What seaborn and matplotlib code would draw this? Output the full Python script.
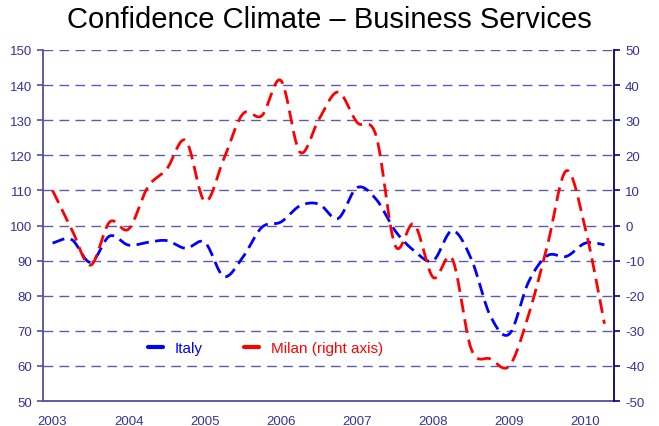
import numpy as np
import pandas as pd
import matplotlib
matplotlib.use("Agg")
import matplotlib.pyplot as plt
from matplotlib.lines import Line2D
import seaborn as sns

# quarterly data, 2003 Q1 .. 2010 Q2
years = [2003, 2004, 2005, 2006, 2007, 2008, 2009, 2010]
italy = [95, 96, 89.5, 97, 94.4, 95.2, 95.7, 93.5, 95.2, 85.5,
         91, 99.5, 101, 105.6, 106.1, 102, 110.8, 107.5, 98.5, 92.8,
         90, 98.5, 90.5, 74.3, 69.1, 83.8, 91.4, 91.2, 95, 94.5]
milan = [10, -1, -11.3, 1, -1, 10.9, 16.1, 24.2, 6.9, 19,
         31.8, 31.3, 41.3, 20.9, 30.3, 38, 29.4, 25.6, -5.7, 0.4,
         -14.8, -9.5, -35.2, -38, -40, -25.7, -5.7, 15.6, -1, -28]

sns.set_theme(style="white")
plt.rcParams['font.family'] = ['Liberation Sans', 'DejaVu Sans']
plt.rcParams['axes.unicode_minus'] = False

navy = '#333399'
grid_col = '#5c5caa'


# excel style smoothed line (catmull-rom bezier)
def smooth(y, n=24):
    y = np.asarray(y, dtype=float)
    x = np.arange(len(y), dtype=float)
    px, py = [], []
    for i in range(len(y) - 1):
        i0 = max(i - 1, 0)
        i3 = min(i + 2, len(y) - 1)
        c1x = x[i] + (x[i + 1] - x[i0]) / 6
        c1y = y[i] + (y[i + 1] - y[i0]) / 6
        c2x = x[i + 1] - (x[i3] - x[i]) / 6
        c2y = y[i + 1] - (y[i3] - y[i]) / 6
        t = np.linspace(0, 1, n, endpoint=(i == len(y) - 2))
        b0 = (1 - t) ** 3
        b1 = 3 * (1 - t) ** 2 * t
        b2 = 3 * (1 - t) * t ** 2
        b3 = t ** 3
        px.extend(b0 * x[i] + b1 * c1x + b2 * c2x + b3 * x[i + 1])
        py.extend(b0 * y[i] + b1 * c1y + b2 * c2y + b3 * y[i + 1])
    return pd.DataFrame({'x': px, 'y': py})


fig = plt.figure(figsize=(6.59, 4.27), dpi=100)
ax = fig.add_axes([0.0653, 0.0585, 0.8664, 0.8221])
ax2 = ax.twinx()

df_it = smooth(italy)
df_mi = smooth(milan)
sns.lineplot(data=df_it, x='x', y='y', ax=ax, sort=False, estimator=None,
             color='#0000ff', linewidth=2.0, linestyle=(0, (4.5, 2.3)))
sns.lineplot(data=df_mi, x='x', y='y', ax=ax2, sort=False, estimator=None,
             color='#ff0000', linewidth=2.0, linestyle=(0, (5.0, 2.5)))

n = len(italy)
ax.set_xlim(-0.5, n - 0.5)
ax.set_ylim(50, 150)
ax2.set_ylim(-50, 50)
ax.set_yticks(range(50, 151, 10))
ax2.set_yticks(range(-50, 51, 10))
ax.set_xticks([4 * i for i in range(len(years))])
ax.set_xticklabels([str(y) for y in years])
ax.set_xlabel('')
ax.set_ylabel('')
ax2.set_ylabel('')

ax.yaxis.grid(True, color=grid_col, linestyle=(0, (7, 4.5)), linewidth=1.0)
ax.set_axisbelow(True)

for a in (ax, ax2):
    a.spines['top'].set_visible(False)
ax.spines['right'].set_visible(False)
ax2.spines['left'].set_visible(False)
ax2.spines['bottom'].set_visible(False)
ax.spines['left'].set_color('#5050a0')
ax.spines['bottom'].set_color('#5050a0')
ax2.spines['right'].set_color('#000080')
for sp in ('left', 'bottom'):
    ax.spines[sp].set_linewidth(1.3)
ax2.spines['right'].set_linewidth(1.3)

ax.tick_params(axis='y', which='both', left=True, length=4, width=1.2,
               color='#5050a0', labelcolor=navy, labelsize=9.5, pad=4)
ax.tick_params(axis='x', bottom=False, labelcolor=navy, labelsize=9.5, pad=4)
ax2.tick_params(axis='y', right=True, length=4, width=1.2,
                color='#000080', labelcolor=navy, labelsize=9.5, pad=4)

handles = [Line2D([], [], color='#0000ff', linewidth=3),
           Line2D([], [], color='#ff0000', linewidth=3)]
leg = ax.legend(handles, ['Italy', 'Milan (right axis)'], ncol=2, frameon=False,
                loc='center left', bbox_to_anchor=(0.16, 0.15), fontsize=11,
                handlelength=1.0, handletextpad=0.75, columnspacing=2.7)
for t, c in zip(leg.get_texts(), ['#0000ff', '#ff0000']):
    t.set_color(c)

fig.suptitle('Confidence Climate \u2013 Business Services', x=0.5, y=0.985,
             fontsize=21, color='black', va='top')

fig.savefig('out.png', dpi=100)
